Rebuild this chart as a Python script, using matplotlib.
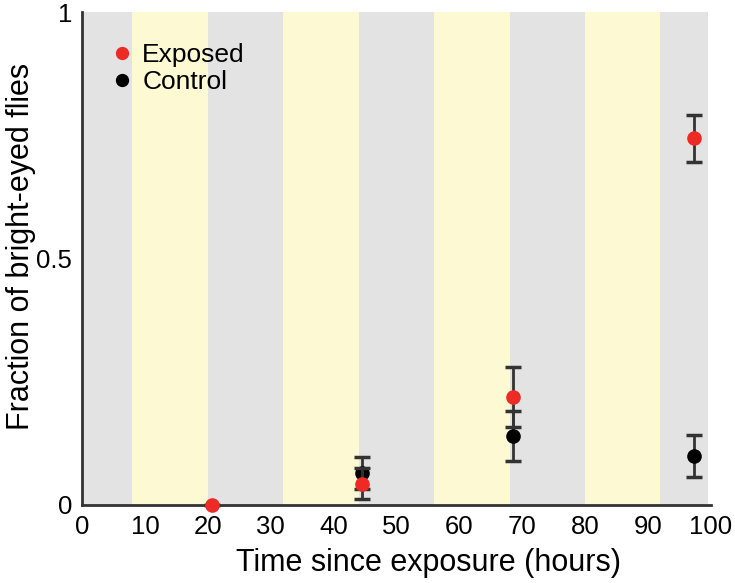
import numpy as np
import matplotlib.pyplot as plt

plt.rcParams['font.family'] = ['Liberation Sans', 'DejaVu Sans']

# light/dark bands (hours)
grey_edges = [0, 8, 20, 32, 44, 56, 68, 80, 92, 99.5]

# exposed flies
exp_t = [20.7, 44.6, 68.5, 97.3]
exp_y = [0.0, 0.043, 0.219, 0.744]
exp_err = [0.0, 0.031, 0.060, 0.048]

# control flies
ctl_t = [44.6, 68.5, 97.3]
ctl_y = [0.065, 0.140, 0.099]
ctl_err = [0.032, 0.051, 0.043]

fig = plt.figure(figsize=(7.35, 5.83), dpi=100)
ax = fig.add_axes([0.1116, 0.134, 0.8554, 0.845])

for i in range(len(grey_edges) - 1):
    c = "#e3e3e3" if i % 2 == 0 else "#fcf9d3"
    ax.axvspan(grey_edges[i], grey_edges[i + 1], ymin=0, ymax=1, color=c, lw=0, zorder=0)

ax.errorbar(ctl_t, ctl_y, yerr=ctl_err, fmt="o", color="black", ms=9.5,
            ecolor="#333333", elinewidth=2, capsize=5.5, capthick=2.5, zorder=6,
            label="Control", clip_on=False)
ax.errorbar(exp_t, exp_y, yerr=exp_err, fmt="o", color="#ee2a24", ms=9.5,
            ecolor="#333333", elinewidth=2, capsize=5.5, capthick=2.5, zorder=7,
            label="Exposed", clip_on=False)

ax.set_xlim(0, 100)
ax.set_ylim(0, 1)
ax.set_xticks(np.arange(0, 101, 10))
ax.set_yticks([0, 0.5, 1])
ax.set_yticklabels(["0", "0.5", "1"])
ax.tick_params(length=0, labelsize=18.5, pad=7, colors="black")
for s in ["top", "right"]:
    ax.spines[s].set_visible(False)
for s in ["left", "bottom"]:
    ax.spines[s].set_color("#333333")
    ax.spines[s].set_linewidth(2)
    ax.spines[s].set_zorder(5)

ax.set_xlabel("Time since exposure (hours)", fontsize=22)
ax.set_ylabel("Fraction of bright-eyed flies", fontsize=22)
ax.xaxis.set_label_coords(0.551, -0.088)
ax.yaxis.set_label_coords(-0.074, 0.524)

h, l = ax.get_legend_handles_labels()
leg = ax.legend([h[1][0], h[0][0]], [l[1], l[0]], loc="upper left", frameon=False,
                fontsize=19, handletextpad=0.0, labelspacing=0.1,
                bbox_to_anchor=(-0.005, 0.985), handlelength=1.5, markerscale=0.9)

fig.savefig("out.png", dpi=100)
